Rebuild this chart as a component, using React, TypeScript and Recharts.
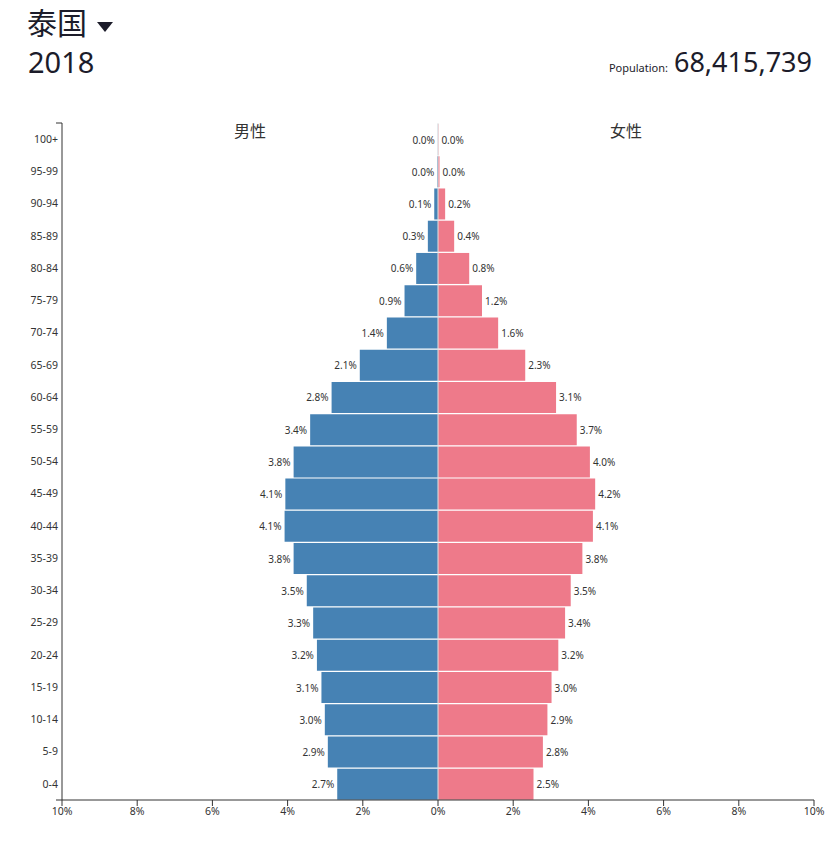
import React from 'react';
import { BarChart, Bar, XAxis, YAxis, ReferenceLine, LabelList } from 'recharts';

// age groups, top of the pyramid first
const ageGroups = [
  '100+', '95-99', '90-94', '85-89', '80-84', '75-79', '70-74', '65-69', '60-64', '55-59', '50-54',
  '45-49', '40-44', '35-39', '30-34', '25-29', '20-24', '15-19', '10-14', '5-9', '0-4',
];
// share of total population, %
const maleShare = [
  0.004, 0.02, 0.1, 0.27, 0.58, 0.89, 1.36, 2.08, 2.83, 3.4, 3.84,
  4.06, 4.08, 3.84, 3.49, 3.32, 3.22, 3.1, 3.01, 2.93, 2.68,
];
const femaleShare = [
  0.01, 0.04, 0.19, 0.43, 0.83, 1.17, 1.6, 2.32, 3.14, 3.69, 4.04,
  4.18, 4.12, 3.84, 3.53, 3.38, 3.2, 3.02, 2.91, 2.79, 2.54,
];
const xTicks = [-10, -8, -6, -4, -2, 0, 2, 4, 6, 8, 10];

const country = '泰国';
const year = '2018';
const population = '68,415,739';
const maleLabel = '男性';
const femaleLabel = '女性';

const data = ageGroups.map((age, i) => ({ age, male: -maleShare[i], female: femaleShare[i] }));

const W = 833;
const H = 841;
const PLOT_LEFT = 62;
const PLOT_RIGHT = 814;
const PLOT_TOP = 123;
const PLOT_BOTTOM = 800;
const X_AXIS_H = 30;

const MALE = '#4682B4';
const FEMALE = '#EE7A8A';
const INK = '#1c1c2a';
const AXIS = '#333';
const FONT = "'Noto Sans', 'Noto Sans CJK SC', sans-serif";

const xPos = (v: number) => PLOT_LEFT + ((v + 10) / 20) * (PLOT_RIGHT - PLOT_LEFT);

const valueLabel = (values: number[], side: 'left' | 'right') => (props: any) => {
  const vb = props.viewBox || {};
  const x = Number(props.x ?? vb.x);
  const y = Number(props.y ?? vb.y);
  const w = Number(props.width ?? vb.width);
  const h = Number(props.height ?? vb.height);
  const v = props.index != null ? values[props.index] : Math.abs(Number(props.value));
  const edge = side === 'left' ? Math.min(x, x + w) - 3 : Math.max(x, x + w) + 3;
  return (
    <text
      x={edge}
      y={y + h / 2}
      textAnchor={side === 'left' ? 'end' : 'start'}
      dominantBaseline="central"
      fontSize={10}
      fill={AXIS}
    >
      {v.toFixed(1)}%
    </text>
  );
};

export default function App() {
  return (
    <div style={{ position: 'absolute', left: 0, top: 0, width: W, height: H, fontFamily: FONT, background: '#fff' }}>
      <div
        style={{
          position: 'absolute', left: 27, top: 6, fontSize: 30, lineHeight: 1, color: INK,
          fontFamily: "'Noto Sans CJK SC', sans-serif",
        }}
      >
        {country}
      </div>
      <svg style={{ position: 'absolute', left: 0, top: 0 }} width={W} height={40}>
        <polygon points="97,22 113,22 105,32" fill={INK} />
      </svg>
      <div style={{ position: 'absolute', left: 28, top: 47, fontSize: 29, lineHeight: 1, color: INK }}>{year}</div>
      <div style={{ position: 'absolute', right: 165, top: 62, fontSize: 11, lineHeight: 1, color: INK }}>Population:</div>
      <div style={{ position: 'absolute', right: 21, top: 48, fontSize: 27, lineHeight: 1, color: INK }}>{population}</div>

      <div style={{ position: 'absolute', left: 0, top: 0 }}>
        <BarChart
          width={W}
          height={H}
          data={data}
          layout="vertical"
          stackOffset="sign"
          margin={{ top: PLOT_TOP, right: W - PLOT_RIGHT, bottom: H - PLOT_BOTTOM - X_AXIS_H, left: 0 }}
        >
          <XAxis
            type="number"
            domain={[-10, 10]}
            ticks={xTicks}
            height={X_AXIS_H}
            tickFormatter={(v: number) => `${Math.abs(v)}%`}
            tick={{ fontSize: 10.5, fill: AXIS }}
            tickSize={6}
            tickMargin={2}
            stroke={AXIS}
            allowDataOverflow
          />
          <YAxis
            type="category"
            dataKey="age"
            width={PLOT_LEFT}
            tickLine={false}
            tickSize={0}
            tickMargin={4}
            tick={{ fontSize: 10.5, fill: AXIS }}
            stroke={AXIS}
            interval={0}
          />
          <Bar dataKey="male" stackId="pop" fill={MALE} barSize={31} isAnimationActive={false}>
            <LabelList dataKey="male" content={valueLabel(maleShare, 'left')} />
          </Bar>
          <Bar dataKey="female" stackId="pop" fill={FEMALE} barSize={31} isAnimationActive={false}>
            <LabelList dataKey="female" content={valueLabel(femaleShare, 'right')} />
          </Bar>
          <ReferenceLine x={0} stroke="#e2e2e2" strokeWidth={1} />
        </BarChart>
      </div>

      {/* outer ticks of the age axis */}
      <svg style={{ position: 'absolute', left: 0, top: 0, pointerEvents: 'none' }} width={W} height={H}>
        <path d={`M${PLOT_LEFT - 6},${PLOT_TOP}H${PLOT_LEFT}M${PLOT_LEFT - 6},${PLOT_BOTTOM}H${PLOT_LEFT}`} stroke={AXIS} strokeWidth={1} />
      </svg>

      <div
        style={{
          position: 'absolute', left: xPos(-5) - 40, width: 80, top: 122, textAlign: 'center', fontSize: 16,
          lineHeight: 1, color: AXIS, fontFamily: "'Noto Sans CJK SC', sans-serif",
        }}
      >
        {maleLabel}
      </div>
      <div
        style={{
          position: 'absolute', left: xPos(5) - 40, width: 80, top: 122, textAlign: 'center', fontSize: 16,
          lineHeight: 1, color: AXIS, fontFamily: "'Noto Sans CJK SC', sans-serif",
        }}
      >
        {femaleLabel}
      </div>
    </div>
  );
}
